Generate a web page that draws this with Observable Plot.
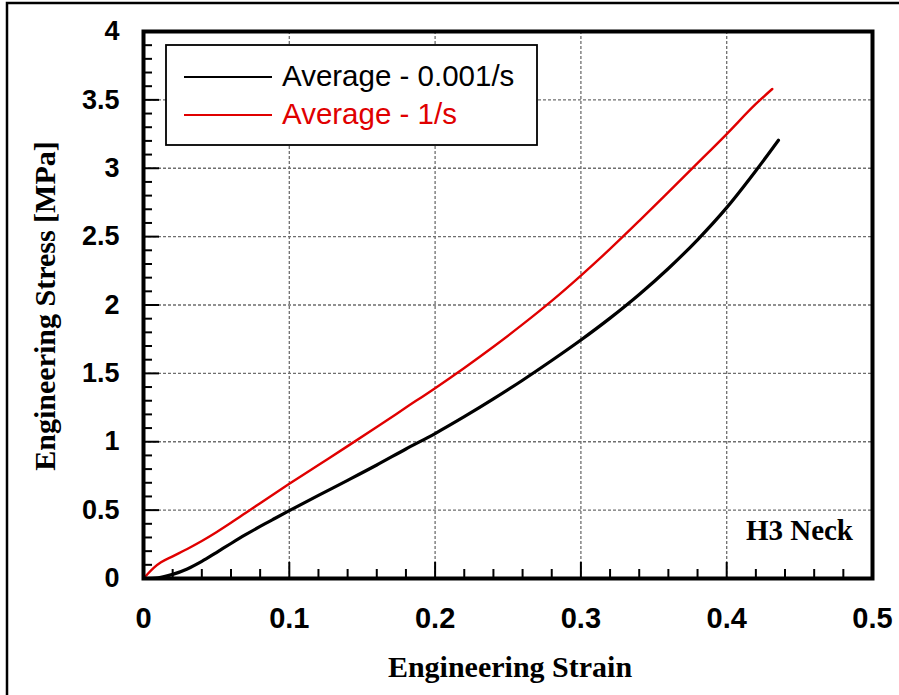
<!DOCTYPE html>
<html><head><meta charset="utf-8">
<script src="https://cdn.jsdelivr.net/npm/d3@7"></script>
<script src="https://cdn.jsdelivr.net/npm/@observablehq/plot@0.6"></script>
<style>body{margin:0;background:#fff;} #chart svg{display:block;}</style>
</head><body><div id="chart"></div>
<script>
// ---- Data ----
const strainSlow = [0, 0.01, 0.02, 0.03, 0.04, 0.05, 0.06, 0.07, 0.08, 0.09, 0.1, 0.12, 0.14, 0.16, 0.18, 0.2, 0.22, 0.24, 0.26, 0.28, 0.3, 0.32, 0.34, 0.36, 0.38, 0.4, 0.42, 0.4355];
const stressSlow = [0, 0.005, 0.03, 0.07, 0.125, 0.19, 0.256, 0.32, 0.381, 0.439, 0.496, 0.608, 0.718, 0.83, 0.947, 1.06, 1.183, 1.313, 1.45, 1.594, 1.744, 1.904, 2.077, 2.267, 2.477, 2.712, 2.982, 3.205];
const strainFast = [0, 0.003, 0.007, 0.012, 0.02, 0.03, 0.04, 0.05, 0.06, 0.07, 0.08, 0.09, 0.1, 0.12, 0.14, 0.16, 0.18, 0.2, 0.22, 0.24, 0.26, 0.28, 0.3, 0.32, 0.34, 0.36, 0.38, 0.4, 0.42, 0.4313];
const stressFast = [0, 0.035, 0.078, 0.118, 0.162, 0.216, 0.274, 0.338, 0.407, 0.479, 0.551, 0.622, 0.692, 0.83, 0.968, 1.108, 1.25, 1.392, 1.54, 1.695, 1.858, 2.03, 2.215, 2.41, 2.615, 2.825, 3.037, 3.25, 3.47, 3.58];
const seriesNames = ["Average - 0.001/s", "Average - 1/s"];
const seriesColors = ["#000000", "#e00000"];
const xMajor = [0, 0.1, 0.2, 0.3, 0.4, 0.5];
const yMajor = [0, 0.5, 1, 1.5, 2, 2.5, 3, 3.5, 4];
const xMinor = [0.02, 0.04, 0.06, 0.08, 0.12, 0.14, 0.16, 0.18, 0.22, 0.24, 0.26, 0.28, 0.32, 0.34, 0.36, 0.38, 0.42, 0.44, 0.46, 0.48];
const yMinor = [0.1,0.2,0.3,0.4,0.6,0.7,0.8,0.9,1.1,1.2,1.3,1.4,1.6,1.7,1.8,1.9,2.1,2.2,2.3,2.4,2.6,2.7,2.8,2.9,3.1,3.2,3.3,3.4,3.6,3.7,3.8,3.9];
const xTitle = "Engineering Strain";
const yTitle = "Engineering Stress [MPa]";
const panelLabel = "H3 Neck";

const slow = strainSlow.map((x, i) => ({x, y: stressSlow[i]}));
const fast = strainFast.map((x, i) => ({x, y: stressFast[i]}));

const W = 899, H = 695;
const mL = 143, mR = 27, mT = 31, mB = 117;
const pw = W - mL - mR, ph = H - mT - mB;
const sans = "'Liberation Sans', Arial, sans-serif";
const serif = "'Liberation Serif', 'Times New Roman', serif";

const chart = Plot.plot({
  width: W, height: H,
  marginLeft: mL, marginRight: mR, marginTop: mT, marginBottom: mB,
  style: {fontFamily: sans, background: "#fff", overflow: "visible"},
  x: {domain: [0, 0.5]},
  y: {domain: [0, 4]},
  marks: [
    Plot.gridX(xMajor.slice(1, -1), {stroke: "#6e6e6e", strokeOpacity: 1, strokeWidth: 1.3, strokeDasharray: "3,2"}),
    Plot.gridY(yMajor.slice(1, -1), {stroke: "#6e6e6e", strokeOpacity: 1, strokeWidth: 1.3, strokeDasharray: "3,2"}),
    Plot.tickX(xMinor, {x: d => d, insetTop: ph - 9, stroke: "#000", strokeWidth: 2}),
    Plot.tickX(xMajor, {x: d => d, insetTop: ph - 16, stroke: "#000", strokeWidth: 2}),
    Plot.tickY(yMinor, {y: d => d, insetRight: pw - 9, stroke: "#000", strokeWidth: 2}),
    Plot.tickY(yMajor, {y: d => d, insetRight: pw - 16, stroke: "#000", strokeWidth: 2}),
    Plot.axisX(xMajor, {tickSize: 0, tickPadding: 29, tickFormat: d => String(d), fontSize: 29, fontWeight: "bold", label: null}),
    Plot.axisY(yMajor, {tickSize: 0, tickPadding: 24, tickFormat: d => String(d), fontSize: 27, fontWeight: "bold", label: null}),
    Plot.line(slow, {x: "x", y: "y", stroke: seriesColors[0], strokeWidth: 3.2, curve: "monotone-x"}),
    Plot.line(fast, {x: "x", y: "y", stroke: seriesColors[1], strokeWidth: 2.4, curve: "monotone-x"}),
    Plot.frame({stroke: "#000", strokeWidth: 4})
  ]
});

const svg = d3.select(chart);
// outer figure border
svg.append("rect").attr("x", 7).attr("y", 3).attr("width", W + 10).attr("height", H + 10)
  .attr("fill", "none").attr("stroke", "#000").attr("stroke-width", 2.5);

// legend
const lg = svg.append("g").attr("text-anchor", "start");
lg.append("rect").attr("x", 166).attr("y", 45).attr("width", 371).attr("height", 100)
  .attr("fill", "#fff").attr("stroke", "#000").attr("stroke-width", 1.8);
seriesNames.forEach((name, i) => {
  const yy = 77 + i * 38;
  lg.append("line").attr("x1", 184).attr("x2", 272).attr("y1", yy).attr("y2", yy)
    .attr("stroke", seriesColors[i]).attr("stroke-width", 2.2);
  lg.append("text").attr("x", 282).attr("y", yy + 9).attr("fill", seriesColors[i])
    .attr("text-anchor", "start")
    .attr("font-family", sans).attr("font-size", 29.5).text(name);
});

// axis titles
svg.append("text").attr("x", 510).attr("y", 677).attr("text-anchor", "middle")
  .attr("font-family", serif).attr("font-weight", "bold").attr("font-size", 30).text(xTitle);
svg.append("text").attr("transform", "translate(55,306) rotate(-90)").attr("text-anchor", "middle")
  .attr("font-family", serif).attr("font-weight", "bold").attr("font-size", 30).text(yTitle);

// panel label
svg.append("text").attr("x", 853).attr("y", 540).attr("text-anchor", "end")
  .attr("font-family", serif).attr("font-weight", "bold").attr("font-size", 29).text(panelLabel);

document.getElementById("chart").appendChild(chart);
</script>
</body></html>
